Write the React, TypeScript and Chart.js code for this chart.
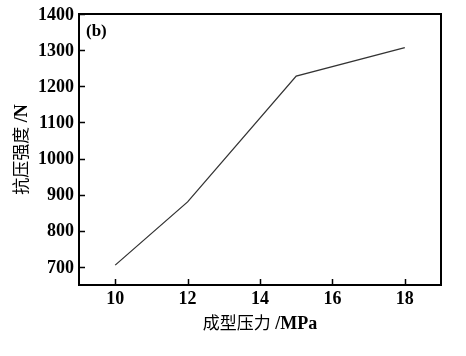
import React, { useEffect, useRef } from "react";
import { Chart, registerables } from "chart.js";

Chart.register(...registerables);

const pressureValues = [10, 12, 15, 18];
const strengthValues = [705, 880, 1228, 1307];
const xTickValues = [10, 12, 14, 16, 18];
const yTickValues = [700, 800, 900, 1000, 1100, 1200, 1300, 1400];
const xTitleCjk = "成型压力";
const xTitleLatin = " /MPa";
const yTitleCjk = "抗压强度";
const yTitleLatin = " /N";
const panelLabel = "(b)";

const SERIF = "'Liberation Serif', 'DejaVu Serif', serif";
const CJK = "'Noto Sans CJK SC', sans-serif";

function drawMixed(ctx: CanvasRenderingContext2D, cjk: string, latin: string, cx: number, cy: number) {
  const cjkFont = `400 17px ${CJK}`;
  const latinFont = `bold 18px ${SERIF}`;
  ctx.font = cjkFont;
  const w1 = ctx.measureText(cjk).width;
  ctx.font = latinFont;
  const w2 = ctx.measureText(latin).width;
  const start = cx - (w1 + w2) / 2;
  ctx.textBaseline = "middle";
  ctx.textAlign = "left";
  ctx.font = cjkFont;
  ctx.fillText(cjk, start, cy);
  ctx.font = latinFont;
  ctx.fillText(latin, start + w1, cy + 1);
}

const framePlugin = {
  id: "framePlugin",
  afterDraw(chart: any) {
    const { ctx, chartArea } = chart;
    const { left, right, top, bottom } = chartArea;
    const xs = chart.scales.x;
    const ys = chart.scales.y;
    ctx.save();
    ctx.strokeStyle = "#000";
    ctx.lineWidth = 2;
    ctx.strokeRect(left, top, right - left, bottom - top);
    ctx.lineWidth = 1.5;
    ctx.beginPath();
    xTickValues.forEach((v) => {
      const px = Math.round(xs.getPixelForValue(v)) + 0.5;
      ctx.moveTo(px, bottom);
      ctx.lineTo(px, bottom - 6);
    });
    yTickValues.forEach((v) => {
      const py = Math.round(ys.getPixelForValue(v)) + 0.5;
      ctx.moveTo(left, py);
      ctx.lineTo(left + 6, py);
    });
    ctx.stroke();

    ctx.fillStyle = "#000";
    ctx.font = `bold 18px ${SERIF}`;
    ctx.textAlign = "center";
    ctx.textBaseline = "alphabetic";
    xTickValues.forEach((v) => {
      ctx.fillText(String(v), xs.getPixelForValue(v), bottom + 19);
    });
    ctx.textAlign = "right";
    ctx.textBaseline = "middle";
    yTickValues.forEach((v) => {
      ctx.fillText(String(v), left - 5, ys.getPixelForValue(v) + 1);
    });

    ctx.font = `bold 17px ${SERIF}`;
    ctx.textAlign = "left";
    ctx.textBaseline = "alphabetic";
    ctx.fillText(panelLabel, left + 7, top + 22);

    drawMixed(ctx, xTitleCjk, xTitleLatin, (left + right) / 2, 323);

    ctx.save();
    ctx.translate(21, (top + bottom) / 2);
    ctx.rotate(-Math.PI / 2);
    drawMixed(ctx, yTitleCjk, yTitleLatin, 0, 0);
    ctx.restore();
    ctx.restore();
  },
};

export default function App() {
  const ref = useRef<HTMLCanvasElement | null>(null);
  useEffect(() => {
    if (!ref.current) return;
    const chart = new Chart(ref.current, {
      type: "line",
      data: {
        datasets: [
          {
            data: pressureValues.map((x, i) => ({ x, y: strengthValues[i] })),
            borderColor: "#333",
            borderWidth: 1.3,
            pointRadius: 0,
            tension: 0,
            fill: false,
          },
        ],
      },
      options: {
        responsive: false,
        animation: false,
        layout: { padding: { left: 0, top: 14, right: 25, bottom: 0 } },
        plugins: { legend: { display: false }, tooltip: { enabled: false } },
        scales: {
          x: {
            type: "linear",
            min: 9,
            max: 19,
            grid: { display: false },
            border: { display: false },
            afterBuildTicks: (s: any) => {
              s.ticks = xTickValues.map((v) => ({ value: v }));
            },
            afterFit: (s: any) => {
              s.height = 71;
            },
            ticks: { display: false },
          },
          y: {
            type: "linear",
            min: 650,
            max: 1400,
            grid: { display: false },
            border: { display: false },
            afterBuildTicks: (s: any) => {
              s.ticks = yTickValues.map((v) => ({ value: v }));
            },
            afterFit: (s: any) => {
              s.width = 79;
            },
            ticks: { display: false },
          },
        },
      },
      plugins: [framePlugin],
    } as any);
    return () => chart.destroy();
  }, []);
  return (
    <div style={{ position: "fixed", left: 0, top: 0, width: 466, height: 356, background: "#fff" }}>
      <canvas ref={ref} width={466} height={356} />
    </div>
  );
}
